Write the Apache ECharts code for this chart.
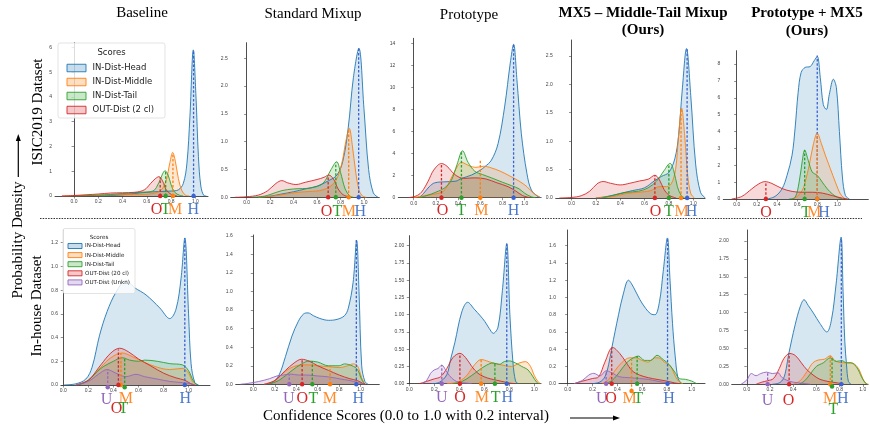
<!DOCTYPE html>
<html>
<head>
<meta charset="utf-8">
<script src="https://cdn.jsdelivr.net/npm/echarts@6/dist/echarts.min.js"></script>
<style>
    html, body { margin: 0; padding: 0; background: #fff; }
    #chart { width: 870px; height: 426px; }
</style>
</head>
<body>
<div id="chart"></div>
<script>
// titles and names
var columnTitles = ['Baseline', 'Standard Mixup', 'Prototype', 'MX5 – Middle-Tail Mixup', 'Prototype + MX5'];
var rowTitles = ['ISIC2019 Dataset', 'In-house Dataset'];
var isicNames = ['IN-Dist-Head', 'IN-Dist-Middle', 'IN-Dist-Tail', 'OUT-Dist (2 cl)'];
var houseNames = ['IN-Dist-Head', 'IN-Dist-Middle', 'IN-Dist-Tail', 'OUT-Dist (20 cl)', 'OUT-Dist (Unkn)'];
var xTicks = [0, 0.2, 0.4, 0.6, 0.8, 1.0];
var yTicks = [
    [0, 1, 2, 3, 4, 5, 6],
    [0, 0.5, 1, 1.5, 2, 2.5],
    [0, 2, 4, 6, 8, 10, 12, 14],
    [0, 0.5, 1, 1.5, 2, 2.5],
    [0, 1, 2, 3, 4, 5, 6, 7, 8],
    [0, 0.2, 0.4, 0.6, 0.8, 1.0, 1.2],
    [0, 0.2, 0.4, 0.6, 0.8, 1.0, 1.2, 1.4, 1.6],
    [0, 0.25, 0.5, 0.75, 1.0, 1.25, 1.5, 1.75, 2.0],
    [0, 0.2, 0.4, 0.6, 0.8, 1.0, 1.2, 1.4, 1.6],
    [0, 0.25, 0.5, 0.75, 1.0, 1.25, 1.5, 1.75, 2.0]
];

// density curves, one entry per panel (row 1 = panels 0-4, row 2 = panels 5-9)
var headCurves = [
    [[0.2,0],[0.3,0.02],[0.4,0.05],[0.5,0.1],[0.6,0.15],[0.7,0.18],[0.8,0.2],[0.86,0.25],[0.9,0.5],[0.93,1.3],[0.955,3.2],[0.983,5.9],[1.005,4.0],[1.025,1.6],[1.045,0.4],[1.07,0.02],[1.09,0]],
    [[0.1,0],[0.2,0.02],[0.3,0.06],[0.4,0.1],[0.5,0.15],[0.6,0.2],[0.7,0.3],[0.77,0.4],[0.82,0.65],[0.866,1.25],[0.91,2.15],[0.957,2.68],[1.0,1.6],[1.04,0.5],[1.08,0.08],[1.12,0]],
    [[0.05,0],[0.09,0.4],[0.14,1.0],[0.19,1.35],[0.3,1.45],[0.38,1.5],[0.43,1.75],[0.52,2.05],[0.6,2.5],[0.64,2.8],[0.7,3.4],[0.76,4.9],[0.82,8.3],[0.87,12.2],[0.9,13.9],[0.93,10.7],[0.97,5.8],[1.02,2.2],[1.06,0.7],[1.12,0.1],[1.15,0]],
    [[0.2,0],[0.3,0.03],[0.4,0.08],[0.5,0.13],[0.6,0.18],[0.68,0.3],[0.74,0.38],[0.8,0.45],[0.85,0.7],[0.88,1.1],[0.91,1.9],[0.945,2.63],[0.98,1.8],[1.02,0.6],[1.06,0.1],[1.1,0]],
    [[0.3,0],[0.38,0.15],[0.45,0.6],[0.5,1.4],[0.55,2.6],[0.58,4.2],[0.61,6.3],[0.64,7.5],[0.68,7.8],[0.73,7.85],[0.77,8.2],[0.8,8.45],[0.83,7.2],[0.86,5.6],[0.89,5.3],[0.92,6.2],[0.96,7.1],[0.99,6.6],[1.02,4.0],[1.05,1.3],[1.08,0.2],[1.12,0]],
    [[0.0,0],[0.1,0.01],[0.18,0.05],[0.23,0.15],[0.29,0.42],[0.35,0.62],[0.42,0.78],[0.5,0.88],[0.57,0.82],[0.66,0.76],[0.77,0.65],[0.85,0.56],[0.9,0.64],[0.94,0.9],[0.97,1.24],[1.0,0.6],[1.02,0.18],[1.05,0.02],[1.08,0]],
    [[0.12,0],[0.18,0.02],[0.24,0.1],[0.3,0.3],[0.36,0.52],[0.42,0.68],[0.47,0.76],[0.51,0.77],[0.56,0.74],[0.62,0.71],[0.7,0.69],[0.78,0.7],[0.85,0.74],[0.885,0.82],[0.93,1.1],[0.963,1.55],[0.985,1.0],[1.01,0.2],[1.04,0.03],[1.07,0]],
    [[0.18,0],[0.24,0.02],[0.3,0.13],[0.33,0.35],[0.365,0.6],[0.42,1.04],[0.467,1.18],[0.52,1.08],[0.57,0.98],[0.605,0.9],[0.64,0.8],[0.672,0.73],[0.71,0.82],[0.745,1.35],[0.78,2.03],[0.805,1.0],[0.83,0.3],[0.85,0.04],[0.87,0]],
    [[0.2,0],[0.26,0.02],[0.3,0.08],[0.33,0.22],[0.355,0.41],[0.41,0.8],[0.45,1.05],[0.49,1.2],[0.53,1.12],[0.58,0.98],[0.63,0.87],[0.67,0.81],[0.704,0.8],[0.74,0.95],[0.77,1.3],[0.804,1.69],[0.825,1.2],[0.845,0.7],[0.866,0.33],[0.89,0.06],[0.92,0]],
    [[0.22,0],[0.28,0.02],[0.316,0.08],[0.34,0.22],[0.36,0.41],[0.417,0.83],[0.46,1.08],[0.494,1.18],[0.53,1.1],[0.58,0.98],[0.63,0.85],[0.69,0.73],[0.73,0.9],[0.77,1.4],[0.813,2.05],[0.83,1.3],[0.845,0.6],[0.86,0.27],[0.876,0.04],[0.9,0]]
];
var middleCurves = [
    [[-0.1,0],[0.1,0.02],[0.3,0.05],[0.5,0.06],[0.65,0.1],[0.72,0.25],[0.76,0.65],[0.79,1.35],[0.813,1.76],[0.835,1.4],[0.86,0.7],[0.89,0.2],[0.92,0.03],[0.95,0]],
    [[0.1,0],[0.25,0.03],[0.4,0.08],[0.5,0.1],[0.62,0.12],[0.7,0.18],[0.76,0.3],[0.81,0.6],[0.845,1.0],[0.875,1.24],[0.9,0.95],[0.93,0.45],[0.96,0.12],[0.99,0.02],[1.02,0]],
    [[0.0,0],[0.1,0.2],[0.2,0.35],[0.27,0.6],[0.33,1.6],[0.38,2.6],[0.43,3.2],[0.5,2.9],[0.56,2.75],[0.63,2.85],[0.7,2.7],[0.78,2.4],[0.86,2.0],[0.95,1.5],[1.02,1.0],[1.08,0.4],[1.14,0.05]],
    [[0.2,0],[0.35,0.03],[0.45,0.08],[0.55,0.1],[0.65,0.13],[0.72,0.2],[0.78,0.2],[0.82,0.25],[0.855,0.5],[0.88,1.1],[0.905,1.58],[0.93,1.1],[0.955,0.4],[0.98,0.08],[1.01,0]],
    [[0.55,0],[0.6,0.15],[0.65,0.5],[0.68,1.0],[0.72,2.0],[0.76,3.2],[0.8,3.9],[0.84,3.3],[0.88,2.6],[0.93,1.8],[0.98,1.0],[1.03,0.3],[1.07,0.05],[1.1,0]],
    [[0.1,0],[0.2,0.04],[0.3,0.15],[0.38,0.23],[0.47,0.27],[0.55,0.24],[0.65,0.19],[0.75,0.15],[0.85,0.13],[0.95,0.14],[1.0,0.1],[1.03,0.03],[1.06,0]],
    [[0.1,0],[0.2,0.04],[0.3,0.14],[0.4,0.2],[0.5,0.21],[0.6,0.2],[0.7,0.19],[0.8,0.18],[0.88,0.2],[0.93,0.22],[0.97,0.2],[1.01,0.07],[1.04,0]],
    [[0.3,0],[0.38,0.02],[0.45,0.1],[0.5,0.22],[0.55,0.33],[0.58,0.35],[0.62,0.33],[0.67,0.3],[0.72,0.28],[0.77,0.26],[0.82,0.25],[0.88,0.3],[0.93,0.32],[0.97,0.25],[1.0,0.12],[1.03,0.03],[1.05,0]],
    [[0.28,0],[0.33,0.05],[0.38,0.15],[0.44,0.25],[0.5,0.3],[0.55,0.3],[0.6,0.27],[0.65,0.25],[0.7,0.3],[0.73,0.3],[0.78,0.25],[0.83,0.2],[0.87,0.08],[0.9,0.02],[0.93,0]],
    [[0.4,0],[0.46,0.05],[0.52,0.18],[0.57,0.3],[0.62,0.34],[0.67,0.35],[0.72,0.4],[0.76,0.33],[0.82,0.3],[0.88,0.3],[0.93,0.28],[0.97,0.2],[1.0,0.08],[1.03,0.01],[1.05,0]]
];
var tailCurves = [
    [[0.0,0],[0.2,0.03],[0.4,0.1],[0.55,0.15],[0.65,0.2],[0.7,0.55],[0.73,0.9],[0.75,1.02],[0.775,0.85],[0.8,0.45],[0.83,0.15],[0.87,0.03],[0.9,0]],
    [[0.05,0],[0.15,0.02],[0.2,0.05],[0.3,0.12],[0.4,0.15],[0.55,0.17],[0.65,0.25],[0.72,0.5],[0.767,0.64],[0.8,0.45],[0.84,0.15],[0.88,0.02],[0.91,0]],
    [[0.05,0],[0.12,0.2],[0.2,0.5],[0.28,0.9],[0.34,1.6],[0.39,3.0],[0.44,4.25],[0.49,3.2],[0.55,2.4],[0.62,2.1],[0.7,1.8],[0.8,1.4],[0.88,1.1],[0.95,0.8],[1.0,0.4],[1.06,0.08],[1.1,0]],
    [[0.25,0],[0.35,0.05],[0.45,0.1],[0.55,0.12],[0.63,0.18],[0.7,0.3],[0.76,0.48],[0.81,0.61],[0.84,0.48],[0.87,0.2],[0.9,0.05],[0.93,0]],
    [[0.52,0],[0.58,0.1],[0.62,1.0],[0.65,2.2],[0.675,2.9],[0.71,2.3],[0.75,1.6],[0.8,1.4],[0.85,1.0],[0.9,0.6],[0.95,0.3],[1.0,0.1],[1.05,0]],
    [[0.12,0],[0.2,0.04],[0.3,0.14],[0.4,0.2],[0.47,0.23],[0.53,0.21],[0.6,0.2],[0.65,0.21],[0.75,0.2],[0.85,0.18],[0.95,0.17],[1.0,0.12],[1.04,0.03],[1.07,0]],
    [[0.15,0],[0.25,0.05],[0.35,0.14],[0.45,0.22],[0.52,0.25],[0.6,0.24],[0.7,0.2],[0.8,0.2],[0.85,0.22],[0.92,0.2],[0.97,0.16],[1.01,0.05],[1.04,0]],
    [[0.35,0],[0.42,0.03],[0.5,0.12],[0.56,0.2],[0.62,0.27],[0.67,0.3],[0.72,0.28],[0.76,0.32],[0.8,0.33],[0.85,0.3],[0.9,0.25],[0.95,0.2],[0.99,0.1],[1.02,0.02],[1.04,0]],
    [[0.3,0],[0.36,0.04],[0.42,0.14],[0.48,0.25],[0.53,0.3],[0.57,0.32],[0.62,0.27],[0.67,0.27],[0.72,0.33],[0.77,0.28],[0.82,0.22],[0.87,0.12],[0.9,0.06],[0.95,0.05],[1.0,0.03],[1.04,0]],
    [[0.45,0],[0.5,0.05],[0.55,0.15],[0.6,0.25],[0.66,0.3],[0.72,0.37],[0.77,0.32],[0.82,0.33],[0.86,0.3],[0.9,0.3],[0.95,0.23],[0.99,0.1],[1.02,0.02],[1.04,0]]
];
var outCurves = [
    [[-0.1,0],[0,0.02],[0.1,0.05],[0.2,0.08],[0.3,0.12],[0.4,0.13],[0.5,0.15],[0.58,0.25],[0.63,0.5],[0.67,0.7],[0.7,0.78],[0.73,0.6],[0.76,0.25],[0.8,0.07],[0.85,0]],
    [[-0.1,0],[0.0,0.01],[0.1,0.04],[0.18,0.12],[0.25,0.25],[0.3,0.3],[0.35,0.26],[0.42,0.23],[0.5,0.27],[0.6,0.32],[0.66,0.36],[0.7,0.4],[0.74,0.33],[0.78,0.15],[0.82,0.05],[0.88,0]],
    [[-0.05,0],[0.02,0.15],[0.07,0.5],[0.13,1.5],[0.18,2.5],[0.25,3.1],[0.3,2.85],[0.37,2.1],[0.45,1.75],[0.55,1.8],[0.65,1.7],[0.75,1.35],[0.85,1.0],[0.92,0.6],[0.98,0.2],[1.05,0]],
    [[-0.1,0],[0.0,0.01],[0.08,0.04],[0.15,0.12],[0.21,0.25],[0.26,0.29],[0.32,0.26],[0.4,0.23],[0.48,0.26],[0.56,0.3],[0.63,0.33],[0.685,0.4],[0.72,0.33],[0.76,0.15],[0.8,0.05],[0.86,0]],
    [[-0.05,0],[0.05,0.15],[0.15,0.6],[0.22,0.9],[0.28,1.03],[0.35,0.92],[0.45,0.62],[0.55,0.45],[0.65,0.4],[0.75,0.4],[0.85,0.35],[0.95,0.2],[1.05,0.05],[1.1,0]],
    [[0.1,0],[0.2,0.04],[0.3,0.17],[0.38,0.27],[0.45,0.31],[0.52,0.28],[0.6,0.22],[0.7,0.16],[0.8,0.1],[0.9,0.06],[0.97,0.04],[1.02,0.01],[1.05,0]],
    [[0.1,0],[0.2,0.04],[0.3,0.15],[0.38,0.23],[0.45,0.27],[0.52,0.25],[0.6,0.2],[0.7,0.15],[0.8,0.1],[0.9,0.06],[0.97,0.04],[1.02,0.01],[1.05,0]],
    [[0.08,0],[0.15,0.04],[0.2,0.07],[0.25,0.1],[0.3,0.22],[0.35,0.38],[0.405,0.44],[0.45,0.38],[0.5,0.25],[0.55,0.15],[0.6,0.1],[0.65,0.07],[0.7,0.05],[0.75,0.03],[0.8,0.01],[0.85,0]],
    [[0.05,0],[0.12,0.03],[0.2,0.06],[0.25,0.08],[0.3,0.25],[0.363,0.42],[0.42,0.35],[0.47,0.25],[0.52,0.15],[0.58,0.1],[0.65,0.07],[0.72,0.05],[0.8,0.03],[0.86,0.01],[0.9,0]],
    [[0.08,0],[0.13,0.03],[0.18,0.05],[0.23,0.08],[0.28,0.22],[0.32,0.36],[0.37,0.43],[0.42,0.4],[0.47,0.3],[0.52,0.2],[0.58,0.12],[0.63,0.07],[0.7,0.04],[0.78,0.02],[0.84,0]]
];
var unknCurves = [
    null, null, null, null, null,
    [[0.1,0],[0.2,0.03],[0.28,0.09],[0.35,0.13],[0.42,0.1],[0.5,0.07],[0.58,0.09],[0.65,0.07],[0.75,0.05],[0.85,0.03],[0.95,0.02],[1.02,0.01],[1.05,0]],
    [[-0.12,0],[-0.05,0.01],[0.05,0.03],[0.15,0.06],[0.22,0.09],[0.28,0.1],[0.35,0.11],[0.42,0.1],[0.5,0.1],[0.6,0.09],[0.7,0.08],[0.8,0.06],[0.9,0.04],[0.97,0.02],[1.03,0]],
    [[0.1,0],[0.14,0.05],[0.17,0.15],[0.2,0.2],[0.23,0.22],[0.26,0.27],[0.29,0.2],[0.32,0.12],[0.36,0.05],[0.4,0.02],[0.45,0.01],[0.5,0]],
    [[0.05,0],[0.12,0.04],[0.17,0.1],[0.21,0.12],[0.26,0.09],[0.31,0.15],[0.35,0.13],[0.42,0.08],[0.5,0.07],[0.58,0.06],[0.65,0.05],[0.72,0.03],[0.8,0.01],[0.85,0]],
    [[-0.05,0],[0.0,0.06],[0.04,0.15],[0.08,0.12],[0.12,0.15],[0.17,0.17],[0.22,0.15],[0.27,0.16],[0.3,0.1],[0.34,0.06],[0.4,0.03],[0.5,0.01],[0.55,0]]
];

// dashed markers, order per panel: Head, Middle, Tail, Out, Unkn
var markerX = [
    [0.985, 0.815, 0.755, 0.71],
    [0.955, 0.87, 0.76, 0.695],
    [0.9, 0.6, 0.43, 0.25],
    [0.95, 0.9, 0.8, 0.685],
    [0.8, 0.8, 0.675, 0.29],
    [0.97, 0.46, 0.49, 0.44, 0.355],
    [0.96, 0.715, 0.55, 0.455, 0.335],
    [0.78, 0.575, 0.685, 0.405, 0.26],
    [0.805, 0.515, 0.56, 0.355, 0.31],
    [0.815, 0.72, 0.735, 0.365, 0.18]
];
var markerTop = [
    [5.9, 1.72, 1.0, 0.75],
    [2.68, 1.22, 0.63, 0.38],
    [13.9, 3.35, 4.2, 3.1],
    [2.63, 1.58, 0.6, 0.4],
    [8.5, 3.9, 2.9, 1.0],
    [1.24, 0.27, 0.22, 0.3, 0.13],
    [1.57, 0.2, 0.25, 0.26, 0.1],
    [2.03, 0.35, 0.3, 0.44, 0.27],
    [1.69, 0.28, 0.32, 0.42, 0.15],
    [2.05, 0.4, 0.38, 0.43, 0.17]
];
var markerBase = [
    [0, 0, 0, 0], [0, 0, 0, 0], [0, 0, 0, 0], [0, 0, 0, 0], [0, 0, 0, 0],
    [0, 0, -0.02, 0, -0.02],
    [0, 0, 0, 0, 0],
    [0, 0, 0, 0, 0],
    [0, -0.085, 0, 0, 0],
    [0, 0, -0.03, 0, 0]
];
// letters under each panel: [letter, x value, offset below axis in px]
var panelLetters = [
    [['O',0.68,14],['T',0.755,14],['M',0.832,14],['H',0.983,14]],
    [['O',0.68,14],['T',0.773,14],['M',0.872,14],['H',0.969,14]],
    [['O',0.26,13],['T',0.43,13],['M',0.61,13],['H',0.9,13]],
    [['O',0.69,14],['T',0.8,14],['M',0.904,14],['H',0.986,14]],
    [['O',0.291,14],['T',0.689,14],['M',0.77,14],['H',0.868,14]],
    [['U',0.346,15],['M',0.5,13.5],['O',0.426,23.5],['T',0.479,23.5],['H',0.973,14]],
    [['U',0.33,14.5],['O',0.457,14.5],['T',0.56,14.5],['M',0.714,14.5],['H',0.978,14.5]],
    [['U',0.26,14],['O',0.405,14],['M',0.58,14],['T',0.69,14],['H',0.785,14]],
    [['U',0.275,15],['O',0.35,15],['M',0.5,15],['T',0.57,15],['H',0.817,15]],
    [['U',0.178,16.5],['O',0.36,16.5],['M',0.718,14],['T',0.747,25],['H',0.828,14]]
];

// layout of the 10 panels
var gridBoxes = [
    [55, 42.7, 153, 153.3], [230.7, 42.7, 148.6, 154.6], [398.3, 38.3, 142.7, 159.4],
    [555.7, 40, 149.3, 158], [723.3, 50.7, 145, 148.3],
    [61, 230, 149, 155], [235.7, 235, 143.6, 149.3], [407.3, 235.7, 133.7, 148],
    [559, 230, 146, 153.7], [731.7, 230, 136.3, 154.3]
];
var xRanges = [[-0.157,1.104],[-0.136,1.131],[-0.139,1.147],[-0.13,1.097],[-0.133,1.307],
               [-0.018,1.171],[-0.164,1.174],[-0.016,1.054],[-0.07,1.107],[-0.13,1.045]];
var yMax = [6.19, 2.78, 14.45, 2.78, 8.79, 1.307, 1.61, 2.145, 1.782, 2.153];
var yDecimals = [0, 1, 0, 1, 0, 1, 1, 2, 1, 2];

var classColors = ['#1f77b4', '#ff7f0e', '#2ca02c', '#d62728', '#9467bd'];
var markColors = ['#3a62d2', '#ff7f0e', '#2ca02c', '#d62728', '#9467bd'];
var letterColors = {H: '#4a78cc', M: '#ff8a2a', T: '#2ca02c', O: '#d62728', U: '#9467bd'};

function fade(hex, a) {
    var n = parseInt(hex.slice(1), 16);
    return 'rgba(' + (n >> 16) + ',' + ((n >> 8) & 255) + ',' + (n & 255) + ',' + a + ')';
}

var myChart = echarts.init(document.getElementById('chart'));

var grids = [], xAxes = [], yAxes = [], series = [];
var curveSets = [headCurves, middleCurves, tailCurves, outCurves, unknCurves];

for (var p = 0; p < 10; p++) {
    var b = gridBoxes[p];
    grids.push({left: b[0], top: b[1], width: b[2], height: b[3], containLabel: false});
    xAxes.push({
        type: 'value', gridIndex: p, min: xRanges[p][0], max: xRanges[p][1],
        axisLine: {show: true, onZero: false, lineStyle: {color: '#222', width: 0.8}},
        axisTick: {show: true, length: 2.5, customValues: xTicks, lineStyle: {color: '#444', width: 0.6}},
        axisLabel: {customValues: xTicks, fontSize: 5, color: '#444', margin: 3,
            formatter: function (v) { return v.toFixed(1); }},
        splitLine: {show: false}
    });
    (function (dec) {
        yAxes.push({
            type: 'value', gridIndex: p, min: 0, max: yMax[p],
            axisLine: {show: true, lineStyle: {color: '#222', width: 0.8}},
            axisTick: {show: true, length: 2.5, customValues: yTicks[p], lineStyle: {color: '#444', width: 0.6}},
            axisLabel: {customValues: yTicks[p], fontSize: 5, color: '#444', margin: 3,
                formatter: function (v) { return v.toFixed(dec); }},
            splitLine: {show: false}
        });
    })(yDecimals[p]);

    // filled densities
    for (var c = 0; c < 5; c++) {
        var curve = curveSets[c][p];
        if (!curve) continue;
        series.push({
            type: 'line', xAxisIndex: p, yAxisIndex: p,
            data: curve, smooth: 0.35, showSymbol: false, silent: true,
            lineStyle: {color: classColors[c], width: 0.9},
            areaStyle: {color: fade(classColors[c], 0.25), origin: 'start'},
            z: 2
        });
    }
    // dashed markers with a dot at the bottom
    for (var m = 0; m < markerX[p].length; m++) {
        var mx = markerX[p][m];
        series.push({
            type: 'line', xAxisIndex: p, yAxisIndex: p, clip: false, silent: true,
            data: [
                {value: [mx, markerBase[p][m]], symbol: 'circle', symbolSize: 4.5},
                {value: [mx, markerTop[p][m]], symbol: 'none'}
            ],
            showSymbol: true, showAllSymbol: true,
            itemStyle: {color: markColors[m]},
            lineStyle: {color: markColors[m], width: 1.3, type: [2.5, 1.8]},
            z: 4
        });
    }
}

// static text, separators, arrows, legends
var serif = 'Liberation Serif, Times New Roman, serif';
var sans = 'DejaVu Sans, sans-serif';
var staticGraphics = [];
function addText(txt, x, y, size, opts) {
    opts = opts || {};
    staticGraphics.push({
        type: 'text', x: x, y: y, rotation: opts.rotation || 0, z: 100,
        style: {text: txt, fill: opts.color || '#000', align: 'center', verticalAlign: 'middle',
            font: (opts.bold ? 'bold ' : '') + size + 'px ' + (opts.family || serif)}
    });
}
addText(columnTitles[0], 142, 13, 15);
addText(columnTitles[1], 313, 14, 15);
addText(columnTitles[2], 469, 15, 15);
addText(columnTitles[3], 643, 13, 15, {bold: true});
addText('(Ours)', 643, 30.5, 15, {bold: true});
addText(columnTitles[4], 807, 13, 15, {bold: true});
addText('(Ours)', 807, 31.5, 15, {bold: true});
addText(rowTitles[0], 38, 112, 15, {rotation: Math.PI / 2});
addText(rowTitles[1], 37, 306, 15, {rotation: Math.PI / 2});
addText('Probability Density', 18, 240, 15, {rotation: Math.PI / 2});
addText('Confidence Scores (0.0 to 1.0 with 0.2 interval)', 406, 416, 15);

staticGraphics.push({type: 'line', z: 100, shape: {x1: 18.3, y1: 177, x2: 18.3, y2: 140},
    style: {stroke: '#000', lineWidth: 1.2}});
staticGraphics.push({type: 'polygon', z: 100, shape: {points: [[18.3, 134], [15.8, 141], [20.8, 141]]},
    style: {fill: '#000'}});
staticGraphics.push({type: 'line', z: 100, shape: {x1: 570, y1: 418, x2: 614, y2: 418},
    style: {stroke: '#000', lineWidth: 1.2}});
staticGraphics.push({type: 'polygon', z: 100, shape: {points: [[620, 418], [613, 415.5], [613, 420.5]]},
    style: {fill: '#000'}});
staticGraphics.push({type: 'line', z: 100, shape: {x1: 40, y1: 218.5, x2: 862, y2: 218.5},
    style: {stroke: '#333', lineWidth: 1, lineDash: [1.5, 1.2]}});

function addLegend(names, box, titleY, rowY, rowGap, iconX, iconW, iconH, textX, size) {
    staticGraphics.push({type: 'rect', z: 100,
        shape: {x: box[0], y: box[1], width: box[2], height: box[3], r: 2},
        style: {fill: 'rgba(255,255,255,0.8)', stroke: '#dcdcdc', lineWidth: 0.8}});
    staticGraphics.push({type: 'text', z: 101, x: box[0] + box[2] / 2, y: titleY,
        style: {text: 'Scores', fill: '#222', align: 'center', verticalAlign: 'middle', font: size + 'px ' + sans}});
    for (var i = 0; i < names.length; i++) {
        var yy = rowY + i * rowGap;
        staticGraphics.push({type: 'rect', z: 101,
            shape: {x: iconX, y: yy - iconH / 2, width: iconW, height: iconH},
            style: {fill: fade(classColors[i], 0.25), stroke: classColors[i], lineWidth: 0.9}});
        staticGraphics.push({type: 'text', z: 101, x: textX, y: yy,
            style: {text: names[i], fill: '#222', align: 'left', verticalAlign: 'middle', font: size + 'px ' + sans}});
    }
}
addLegend(isicNames, [58, 43, 107, 75], 53, 68, 14, 67, 19, 7.5, 92.5, 8.5);
addLegend(houseNames, [63, 228.5, 72, 65], 237.5, 246, 9.1, 68, 14, 5, 85, 5.6);

myChart.setOption({
    backgroundColor: '#fff',
    animation: false,
    grid: grids,
    xAxis: xAxes,
    yAxis: yAxes,
    series: series,
    graphic: staticGraphics
});

// letters under the panels, placed through each panel's x axis
var letterGraphics = [];
for (var q = 0; q < 10; q++) {
    for (var k = 0; k < panelLetters[q].length; k++) {
        var L = panelLetters[q][k];
        var pt = myChart.convertToPixel({gridIndex: q}, [L[1], 0]);
        letterGraphics.push({
            type: 'text', z: 100, x: pt[0], y: pt[1] + L[2],
            style: {text: L[0], fill: letterColors[L[0]], align: 'center', verticalAlign: 'middle',
                font: '16px ' + serif}
        });
    }
}
myChart.setOption({graphic: staticGraphics.concat(letterGraphics)});
</script>
</body>
</html>
